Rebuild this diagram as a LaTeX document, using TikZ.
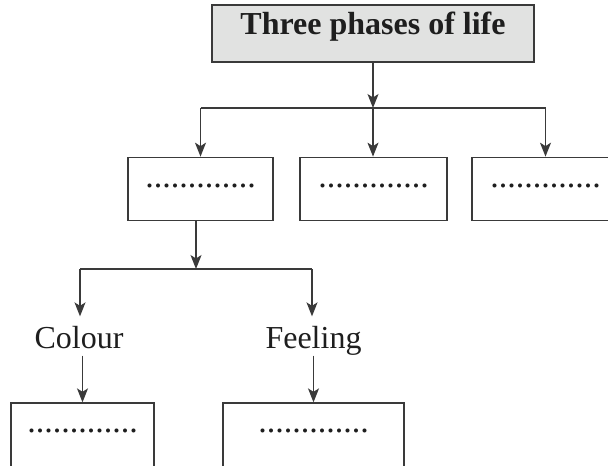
\documentclass[tikz,border=0pt]{standalone}
\usepackage{fontspec}
\setmainfont{Liberation Serif}
\usetikzlibrary{arrows.meta}
\definecolor{linec}{HTML}{3A3A3A}
\definecolor{titlefill}{HTML}{E1E2E1}
\definecolor{textc}{HTML}{1E1E1E}
\begin{document}
\begin{tikzpicture}[x=1pt,y=-1pt, line width=1.3pt,
  arr/.style={draw=linec, -{Stealth[length=14pt,width=11pt,inset=3.5pt]}},
  conn/.style={draw=linec},
  box/.style={draw=linec, rectangle, inner sep=0pt, text height=0pt, font=\fontsize{34}{40}\selectfont, text=textc},
  lbl/.style={font=\fontsize{32}{38}\selectfont, text=textc, text height=24pt, text depth=0pt, inner xsep=2pt, inner ysep=7pt, anchor=base}]
\useasboundingbox (0,0) rectangle (608,466);
% title
\node[draw=linec, fill=titlefill, minimum width=322pt, minimum height=57pt, inner sep=0pt,
      text height=1.6pt, text depth=0pt, font=\bfseries\fontsize{32}{38}\selectfont, text=textc]
      (title) at (373,33.5) {Three phases of life};
% phases
\node[box, minimum width=145pt, minimum height=63pt, text depth=3.6pt] (p1) at (200.5,188.8) {.............};
\node[box, minimum width=147pt, minimum height=63pt, text depth=3.6pt] (p2) at (373.5,188.8) {.............};
\node[box, minimum width=147pt, minimum height=63pt, text depth=3.6pt] (p3) at (545.5,188.8) {.............};
% junctions
\coordinate (j1) at (373,108);
\coordinate (j2) at (196,269);
\coordinate (ja) at (80,269);
\coordinate (jb) at (312,269);
% labels
\node[lbl] (colour) at (79,348) {Colour};
\node[lbl] (feeling) at (313.5,348) {Feeling};
% bottom boxes
\node[box, minimum width=143pt, minimum height=120pt, text depth=61pt] (bb1) at (82.5,463) {.............};
\node[box, minimum width=181pt, minimum height=120pt, text depth=61pt] (bb2) at (313.5,463) {.............};
% connectors
\draw[arr] (title.south) -- (j1);
\draw[conn] (p1.north |- j1) -- (p3.north |- j1);
\draw[arr] (p1.north |- j1) -- (p1.north);
\draw[arr] (j1) -- (j1 |- p2.north);
\draw[arr] (p3.north |- j1) -- (p3.north);
\draw[arr] (p1.south -| j2) -- (j2);
\draw[conn] (ja) -- (jb);
\draw[arr] (ja) -- (ja |- colour.north);
\draw[arr] (jb) -- (jb |- feeling.north);
\draw[arr] (colour.south -| bb1.north) -- (bb1.north);
\draw[arr] (feeling.south -| bb2.north) -- (bb2.north);
\end{tikzpicture}
\end{document}
